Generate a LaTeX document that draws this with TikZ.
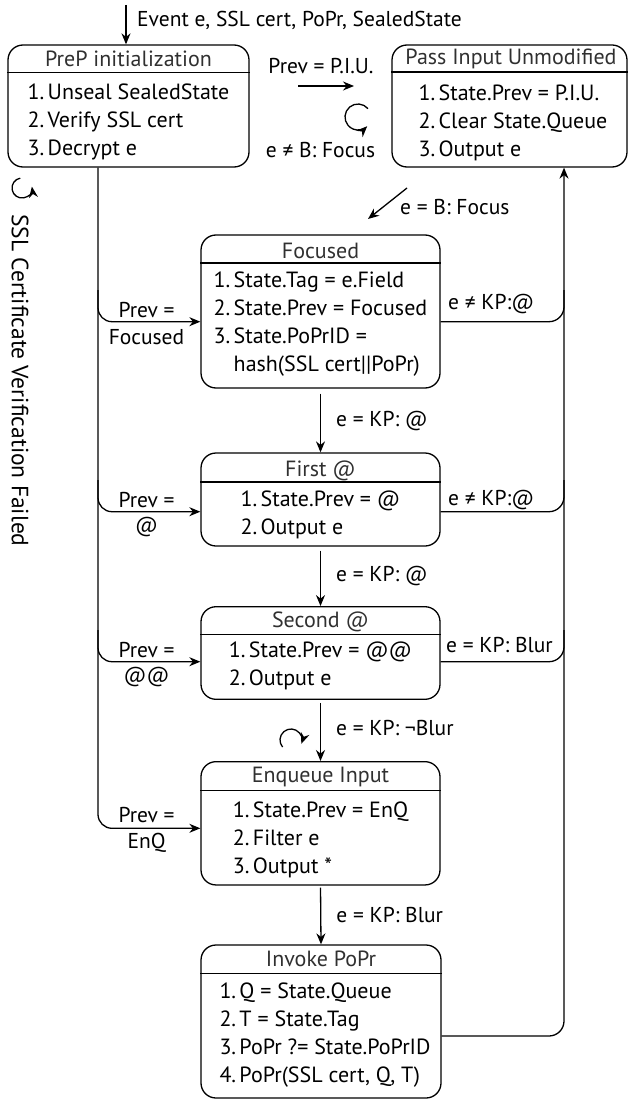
\documentclass[tikz,border=0pt]{standalone}
\usepackage{fontspec}
\setmainfont{PT Sans}
\usepackage{tikz}
\usetikzlibrary{calc}
\usetikzlibrary{arrows.meta}
\definecolor{headgray}{HTML}{303030}

\tikzset{
  statebox/.style={draw, line width=1.3pt, rounded corners=15pt, minimum width=239pt, inner sep=0pt},
  lbl/.style={font=\fontsize{21.5}{24}\selectfont, inner sep=0pt},
  headtxt/.style={font=\fontsize{22}{24}\selectfont, text=headgray, inner sep=0pt},
  body/.style={align=left, font=\fontsize{22}{28}\selectfont, inner sep=0pt},
  conn/.style={line width=1.3pt, -{Stealth[length=11pt,width=9pt]}},
  divider/.style={line width=1.2pt}
}
\newcommand{\itm}[1]{\makebox[20pt][l]{#1.}}

\begin{document}
\begin{tikzpicture}[x=1pt,y=1pt]
\useasboundingbox (0,0) rectangle (629,-1099);

% PREP INITIALIZATION
\node[statebox, minimum width=241pt, minimum height=122pt] (prep) at (128.5,-106) {};
\node[headtxt] (prephead) at (128.5,-59) {PreP initialization};
\draw[divider] (prep.west |- 0,-72.5) -- (prep.east |- 0,-72.5);
\node[body] (prepbody) at (128.5,-121.5) {\itm{1}Unseal SealedState\\\itm{2}Verify SSL cert\\\itm{3}Decrypt e};
% input
\coordinate (input) at (126,-5);
\draw[conn] (input) -- (prep.north -| input);
\node[lbl, anchor=west] (inputlbl) at (137,-20) {Event e, SSL cert, PoPr, SealedState};
% failed cert
\coordinate (failloop) at (22,-188);
\draw[conn] ($(failloop)+(100:10)$) arc[start angle=100, end angle=368, radius=10];
\node[lbl, font=\fontsize{23.5}{26}\selectfont, anchor=west, rotate=-90] (faillbl) at (20,-214) {SSL Certificate Verification Failed};

% PASS INPUT UNMODIFIED
\node[statebox, minimum width=235pt, minimum height=122pt] (piu) at (509.5,-106) {};
\node[headtxt] (piuhead) at (511,-59) {Pass Input Unmodified};
\draw[divider] (piu.west |- 0,-72) -- (piu.east |- 0,-72);
\node[body] (piubody) at (513,-123) {\itm{1}State.Prev = P.I.U.\\\itm{2}Clear State.Queue\\\itm{3}Output e};
% prev = piu
\node[lbl] (piulbl) at (321,-66) {Prev = P.I.U.};
\coordinate (piuA) at (298,-86);
\coordinate (piuB) at (354,-86);
\draw[conn] (piuA) -- (piuB);
% self loop
\coordinate (piuloop) at (358,-117);
\draw[conn] ($(piuloop)+(40:13)$) arc[start angle=40, end angle=315, radius=13];
\node[lbl] (nofocus) at (320.5,-150) {e ≠ B: Focus};
% to focused
\coordinate (diagA) at (407,-188);
\coordinate (diagB) at (368,-219);
\draw[conn] (diagA) -- (diagB);
\node[lbl, anchor=west] (bfocus) at (400,-207) {e = B: Focus};

% FOCUSED
\node[statebox, minimum height=153pt] (focused) at (320.5,-311.5) {};
\node[headtxt] (focusedhead) at (320.5,-251) {Focused};
\draw[divider] (focused.west |- 0,-263) -- (focused.east |- 0,-263);
\node[body] (focusedbody) at (320.5,-323.7) {\itm{1}State.Tag = e.Field\\\itm{2}State.Prev = Focused\\\itm{3}State.PoPrID =\\\hspace*{20pt}hash(SSL cert||PoPr)};

% FIRST @
\node[statebox, minimum height=93pt] (first) at (320.5,-499.5) {};
\node[headtxt] (firsthead) at (320.5,-470.5) {First @};
\draw[divider] (first.west |- 0,-482) -- (first.east |- 0,-482);
\node[body] (firstbody) at (320.5,-514.7) {\itm{1}State.Prev = @\\\itm{2}Output e};

% SECOND @
\node[statebox, minimum height=92.6pt] (second) at (320.5,-653) {};
\node[headtxt] (secondhead) at (320.5,-621.5) {Second @};
\draw[divider] (second.west |- 0,-634.5) -- (second.east |- 0,-634.5);
\node[body] (secondbody) at (320.5,-666) {\itm{1}State.Prev = @@\\\itm{2}Output e};

% ENQUEUE INPUT
\node[statebox, minimum height=123.3pt] (enqueue) at (320.5,-823.3) {};
\node[headtxt] (enqueuehead) at (320.5,-776.5) {Enqueue Input};
\draw[divider] (enqueue.west |- 0,-790.7) -- (enqueue.east |- 0,-790.7);
\node[body] (enqueuebody) at (320.5,-839.5) {\itm{1}State.Prev = EnQ\\\itm{2}Filter e\\\itm{3}Output *};
% self loop
\coordinate (enqloop) at (291,-740);
\draw[conn] ($(enqloop)+(220:11)$) arc[start angle=220, end angle=-20, radius=11];

% INVOKE POPR
\node[statebox, minimum width=240pt, minimum height=153pt] (invoke) at (321,-1021.5) {};
\node[headtxt] (invokehead) at (321,-959.3) {Invoke PoPr};
\draw[divider] (invoke.west |- 0,-973.3) -- (invoke.east |- 0,-973.3);
\node[body] (invokebody) at (325,-1035) {\itm{1}Q = State.Queue\\\itm{2}T = State.Tag\\\itm{3}PoPr ?= State.PoPrID\\\itm{4}PoPr(SSL cert, Q, T)};

% downward transitions
\draw[conn, shorten <=5pt] (focused.south) -- (first.north) node[lbl, midway, anchor=west, xshift=15pt] (kp1) {e = KP: @};
\draw[conn, shorten <=4pt] (first.south) -- (second.north) node[lbl, midway, anchor=west, xshift=15pt] (kp2) {e = KP: @};
\draw[conn, shorten <=3pt] (second.south) -- (enqueue.north) node[lbl, midway, anchor=west, xshift=15pt, yshift=2pt] (kp3) {e = KP: ¬Blur};
\draw[conn, shorten <=2pt] (enqueue.south) -- (invoke.north) node[lbl, midway, anchor=west, xshift=15pt] (kp4) {e = KP: Blur};

% left trunk (previous state)
\coordinate (ltrunk) at (98,-167);
\draw[conn, rounded corners=14pt] (prep.south -| ltrunk) |- ([yshift=-5pt]enqueue.west);
\draw[conn, rounded corners=14pt] (ltrunk |- 0,-290) |- ([yshift=-10.2pt]focused.west);
\draw[conn, rounded corners=14pt] (ltrunk |- 0,-480) |- ([yshift=-12.2pt]first.west);
\draw[conn, rounded corners=14pt] (ltrunk |- 0,-630) |- ([yshift=-8.7pt]second.west);
\node[lbl] (prevfoc) at (146.5,-310) {Prev =};
\node[lbl] (prevfocb) at (146.5,-337) {Focused};
\node[lbl] (prevat) at (146.5,-500) {Prev =};
\node[lbl] (prevatb) at (146.5,-527) {@};
\node[lbl] (prevatat) at (146.5,-650) {Prev =};
\node[lbl] (prevatatb) at (146.5,-677) {@@};
\node[lbl] (prevenq) at (146.5,-815) {Prev =};
\node[lbl] (prevenqb) at (146.5,-843) {EnQ};

% right trunk (back to pass input unmodified)
\coordinate (rtrunk) at (564,-170);
\draw[conn, rounded corners=15pt] ([yshift=-14.5pt]invoke.east) -| (piu.south -| rtrunk);
\draw[line width=1.3pt, rounded corners=15pt] ([yshift=-10.2pt]focused.east) -| (rtrunk |- 0,-290);
\draw[line width=1.3pt, rounded corners=15pt] ([yshift=-12.2pt]first.east) -| (rtrunk |- 0,-480);
\draw[line width=1.3pt, rounded corners=15pt] ([yshift=-8.7pt]second.east) -| (rtrunk |- 0,-630);
\node[lbl, anchor=west] (notat1) at (448,-303.5) {e ≠ KP:@};
\node[lbl, anchor=west] (notat2) at (448,-499.5) {e ≠ KP:@};
\node[lbl, anchor=west] (blur) at (446,-645) {e = KP: Blur};

\end{tikzpicture}
\end{document}
